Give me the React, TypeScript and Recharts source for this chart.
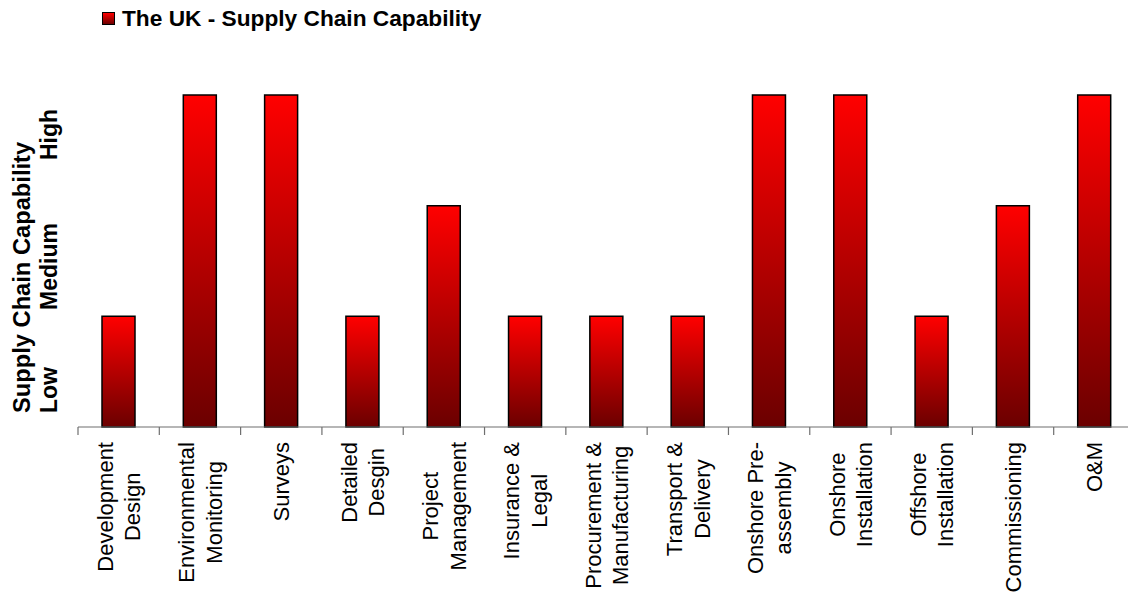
import { BarChart, Bar, XAxis, YAxis, Legend } from "recharts";

const categories = [
  "Development\nDesign",
  "Environmental\nMonitoring",
  "Surveys",
  "Detailed\nDesgin",
  "Project\nManagement",
  "Insurance &\nLegal",
  "Procurement &\nManufacturing",
  "Transport &\nDelivery",
  "Onshore Pre-\nassembly",
  "Onshore\nInstallation",
  "Offshore\nInstallation",
  "Commissioning",
  "O&M",
];

// 1 = low, 2 = medium, 3 = high
const capability = [1, 3, 3, 1, 2, 1, 1, 1, 3, 3, 1, 2, 3];

const seriesName = "The UK - Supply Chain Capability";
const yTitle = "Supply Chain Capability";
const levelLabels = ["Low", "Medium", "High"];

const data = categories.map((name, i) => ({ name, value: capability[i] }));

const FONT = "'Liberation Sans', Arial, sans-serif";
const W = 1140;
const H = 598;
const Y_AXIS_W = 1;
const MARGIN = { top: 95, right: 5, left: 78 - Y_AXIS_W, bottom: 0 };
const HALF_BAND = (W - MARGIN.left - Y_AXIS_W - MARGIN.right) / categories.length / 2;

let ctx: CanvasRenderingContext2D | null = null;
function textWidth(s: string, font: string) {
  if (!ctx) ctx = document.createElement("canvas").getContext("2d");
  if (!ctx) return s.length * 11;
  ctx.font = font;
  return ctx.measureText(s).width;
}

// category label, rotated, with the tick mark on the left band edge
function CategoryTick(props: any) {
  const { x, y, payload } = props;
  const lines = String(payload.value).split("\n");
  const size = 22;
  const lineGap = 27.5;
  const maxW = Math.max(...lines.map((l) => textWidth(l, `${size}px ${FONT}`)));
  const cy = y + 15 + maxW / 2;
  const edge = x - HALF_BAND;
  return (
    <g>
      <line x1={edge} x2={edge} y1={y} y2={y + 8} stroke="#6f6f6f" strokeWidth={1.2} />
      {lines.map((l, i) => {
        const bx = x + (i - (lines.length - 1) / 2) * lineGap + 8;
        return (
          <text
            key={i}
            x={bx}
            y={cy}
            transform={`rotate(-90, ${bx}, ${cy})`}
            textAnchor="middle"
            fontSize={size}
            fontFamily={FONT}
            fill="#000"
          >
            {l}
          </text>
        );
      })}
    </g>
  );
}

function YTitle(props: any) {
  const { viewBox } = props;
  const bottom = viewBox.y + viewBox.height;
  const starts = [bottom - 14, bottom - 117, bottom - 267];
  const common = { fontWeight: "bold" as const, fontFamily: FONT, fill: "#000" };
  return (
    <g>
      <text x={30} y={bottom - 14} transform={`rotate(-90, 30, ${bottom - 14})`} fontSize={23.7} {...common}>
        {yTitle}
      </text>
      {levelLabels.map((l, i) => (
        <text key={l} x={57} y={starts[i]} transform={`rotate(-90, 57, ${starts[i]})`} fontSize={23} {...common}>
          {l}
        </text>
      ))}
    </g>
  );
}

function LegendBox(props: any) {
  const item = props.payload?.[0];
  return (
    <div
      style={{
        display: "flex",
        alignItems: "center",
        fontFamily: FONT,
        fontWeight: "bold",
        fontSize: 22.7,
        lineHeight: "24px",
        whiteSpace: "nowrap",
        color: "#000",
      }}
    >
      <span
        style={{
          display: "inline-block",
          width: 11,
          height: 11,
          border: "1px solid #000",
          background: "linear-gradient(#ff0000, #6b0000)",
          marginRight: 7,
        }}
      />
      {item ? item.value : seriesName}
    </div>
  );
}

export default function App() {
  return (
    <div style={{ position: "absolute", left: 0, top: 0, width: 1128, height: 598, overflow: "hidden", background: "#fff" }}>
      <BarChart width={W} height={H} data={data} margin={MARGIN}>
        <defs>
          <linearGradient id="barFill" x1="0" y1="0" x2="0" y2="1">
            <stop offset="0%" stopColor="#ff0000" />
            <stop offset="100%" stopColor="#6b0000" />
          </linearGradient>
        </defs>
        <XAxis
          dataKey="name"
          interval={0}
          height={171}
          tickSize={0}
          tickMargin={0}
          tickLine={false}
          axisLine={{ stroke: "#6f6f6f", strokeWidth: 1.2 }}
          tick={<CategoryTick />}
        />
        <YAxis
          domain={[0, 3]}
          width={Y_AXIS_W}
          tick={false}
          axisLine={false}
          tickLine={false}
          label={{ content: <YTitle /> }}
        />
        <Legend
          layout="horizontal"
          verticalAlign="middle"
          align="center"
          wrapperStyle={{ top: 6, left: 102, width: "auto" }}
          content={<LegendBox />}
        />
        <Bar
          dataKey="value"
          name={seriesName}
          barSize={33}
          fill="url(#barFill)"
          stroke="#000"
          strokeWidth={1.5}
          isAnimationActive={false}
        />
      </BarChart>
    </div>
  );
}
